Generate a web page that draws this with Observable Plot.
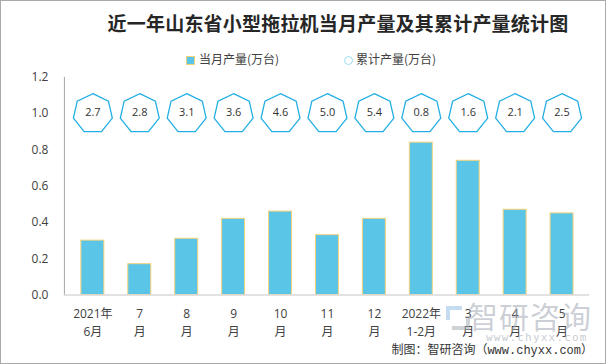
<!DOCTYPE html>
<html>
<head>
<meta charset="utf-8">
<script src="https://cdn.jsdelivr.net/npm/d3@7"></script>
<script src="https://cdn.jsdelivr.net/npm/@observablehq/plot@0.6"></script>
<style>
  html, body { margin: 0; padding: 0; background: #fff; }
  #wrap { position: relative; width: 606px; height: 364px; box-sizing: border-box; border: 1px solid #a9a9a9; overflow: hidden; font-family: "Noto Sans CJK SC", "Open Sans", sans-serif; }
  #chart { position: absolute; left: -1px; top: -1px; }
  .abs { position: absolute; white-space: nowrap; }
  #title { left: 0; width: 674px; top: 9px; text-align: center; font-size: 19px; font-weight: 700; color: #262626; line-height: 26px; letter-spacing: 0.2px; }
  .leg { top: 50px; font-size: 12px; color: #404040; line-height: 16px; }
  .sw { display: inline-block; width: 7px; height: 7px; background: #5bc5e8; border: 1px solid #f5d27a; vertical-align: -1px; margin-right: 4px; }
  .cir { display: inline-block; width: 7px; height: 7px; border: 1px solid #9fdcf2; border-radius: 50%; vertical-align: -1px; margin-right: 3px; }
  #footer { right: 12px; top: 342px; font-size: 12px; color: #333; line-height: 16px; font-family: "Liberation Mono", "Noto Sans CJK SC", monospace; }
  #wm1 { left: 467px; top: 296px; font-size: 30px; color: rgba(160,168,178,0.55); line-height: 36px; letter-spacing: 1px; }
  #wm2 { left: 485px; top: 330px; font-size: 11px; color: rgba(160,168,178,0.6); line-height: 14px; letter-spacing: 1.2px; font-family: "DejaVu Sans Mono", monospace; }
  #logo1 { left: 445px; top: 305px; width: 12px; height: 10px; border: 4px solid rgba(150,190,225,0.55); border-right: none; border-bottom: none; }
  #logo2 { left: 451px; top: 315px; width: 14px; height: 10px; border: 4px solid rgba(160,168,178,0.5); border-left: none; border-top: none; }
</style>
</head>
<body>
<div id="wrap">
  <div id="chart"></div>
  <div class="abs" id="title">近一年山东省小型拖拉机当月产量及其累计产量统计图</div>
  <div class="abs leg" style="left:185px"><span class="sw"></span>当月产量(万台)</div>
  <div class="abs leg" style="left:343px"><span class="cir"></span>累计产量(万台)</div>
  <div class="abs" id="logo1"></div>
  <div class="abs" id="logo2"></div>
  <div class="abs" id="wm1">智研咨询</div>
  <div class="abs" id="wm2">www.chyxx.com</div>
  <div class="abs" id="footer">制图：智研咨询（www.chyxx.com）</div>
</div>
<script>
const months = ["2021年\n6月", "7\n月", "8\n月", "9\n月", "10\n月", "11\n月", "12\n月", "2022年\n1-2月", "3\n月", "4\n月", "5\n月"];
const monthlyOutput = [0.30, 0.17, 0.31, 0.42, 0.46, 0.33, 0.42, 0.84, 0.74, 0.47, 0.45];
const cumulativeOutput = [2.7, 2.8, 3.1, 3.6, 4.6, 5.0, 5.4, 0.8, 1.6, 2.1, 2.5];
const labelRow = [1.0, 1.0, 1.0, 1.0, 1.0, 1.0, 1.0, 1.0, 1.0, 1.0, 1.0];
const yTicks = [0, 0.2, 0.4, 0.6, 0.8, 1.0, 1.2];

const rows = months.map((m, i) => ({month: m, monthly: monthlyOutput[i], cumulative: cumulativeOutput[i], row: labelRow[i]}));

const heptagon = {
  draw(context, size) {
    const r = Math.sqrt(size / Math.PI);
    for (let k = 0; k < 7; k++) {
      const a = -Math.PI / 2 + k * 2 * Math.PI / 7;
      const px = r * Math.cos(a), py = r * Math.sin(a);
      if (k === 0) context.moveTo(px, py); else context.lineTo(px, py);
    }
    context.closePath();
  }
};

const chart = Plot.plot({
  width: 606,
  height: 364,
  marginTop: 77,
  marginBottom: 69,
  marginLeft: 64,
  marginRight: 16,
  style: {fontFamily: "'Open Sans', 'Noto Sans CJK SC', sans-serif", fontSize: "12px", color: "#404040", background: "transparent"},
  x: {domain: months, paddingInner: 0.52, paddingOuter: 0.27, label: null},
  y: {domain: [0, 1.2], label: null},
  marks: [
    Plot.frame({anchor: "left", stroke: "#a6a6a6", strokeWidth: 1}),
    Plot.barY(rows, {x: "month", y: "monthly", fill: "#5bc5e8", stroke: "#f5d27a", strokeWidth: 1}),
    Plot.ruleY([0], {stroke: "#d9d9d9", strokeWidth: 1.5}),
    Plot.dot(rows, {x: "month", y: "row", symbol: heptagon, r: 20, fill: "#fff", stroke: "#22aee4", strokeWidth: 1.3}),
    Plot.text(rows, {x: "month", y: "row", text: d => d.cumulative.toFixed(1), fontSize: 11, fill: "#333", dy: -1}),
    Plot.axisY({ticks: yTicks, tickFormat: d3.format(".1f"), tickSize: 0, tickPadding: 16, fontSize: 12, fill: "#404040"}),
    Plot.axisX({tickSize: 0, tickPadding: 11, fontSize: 12, fill: "#404040", lineHeight: 1.45})
  ]
});
document.getElementById("chart").appendChild(chart);
</script>
</body>
</html>
